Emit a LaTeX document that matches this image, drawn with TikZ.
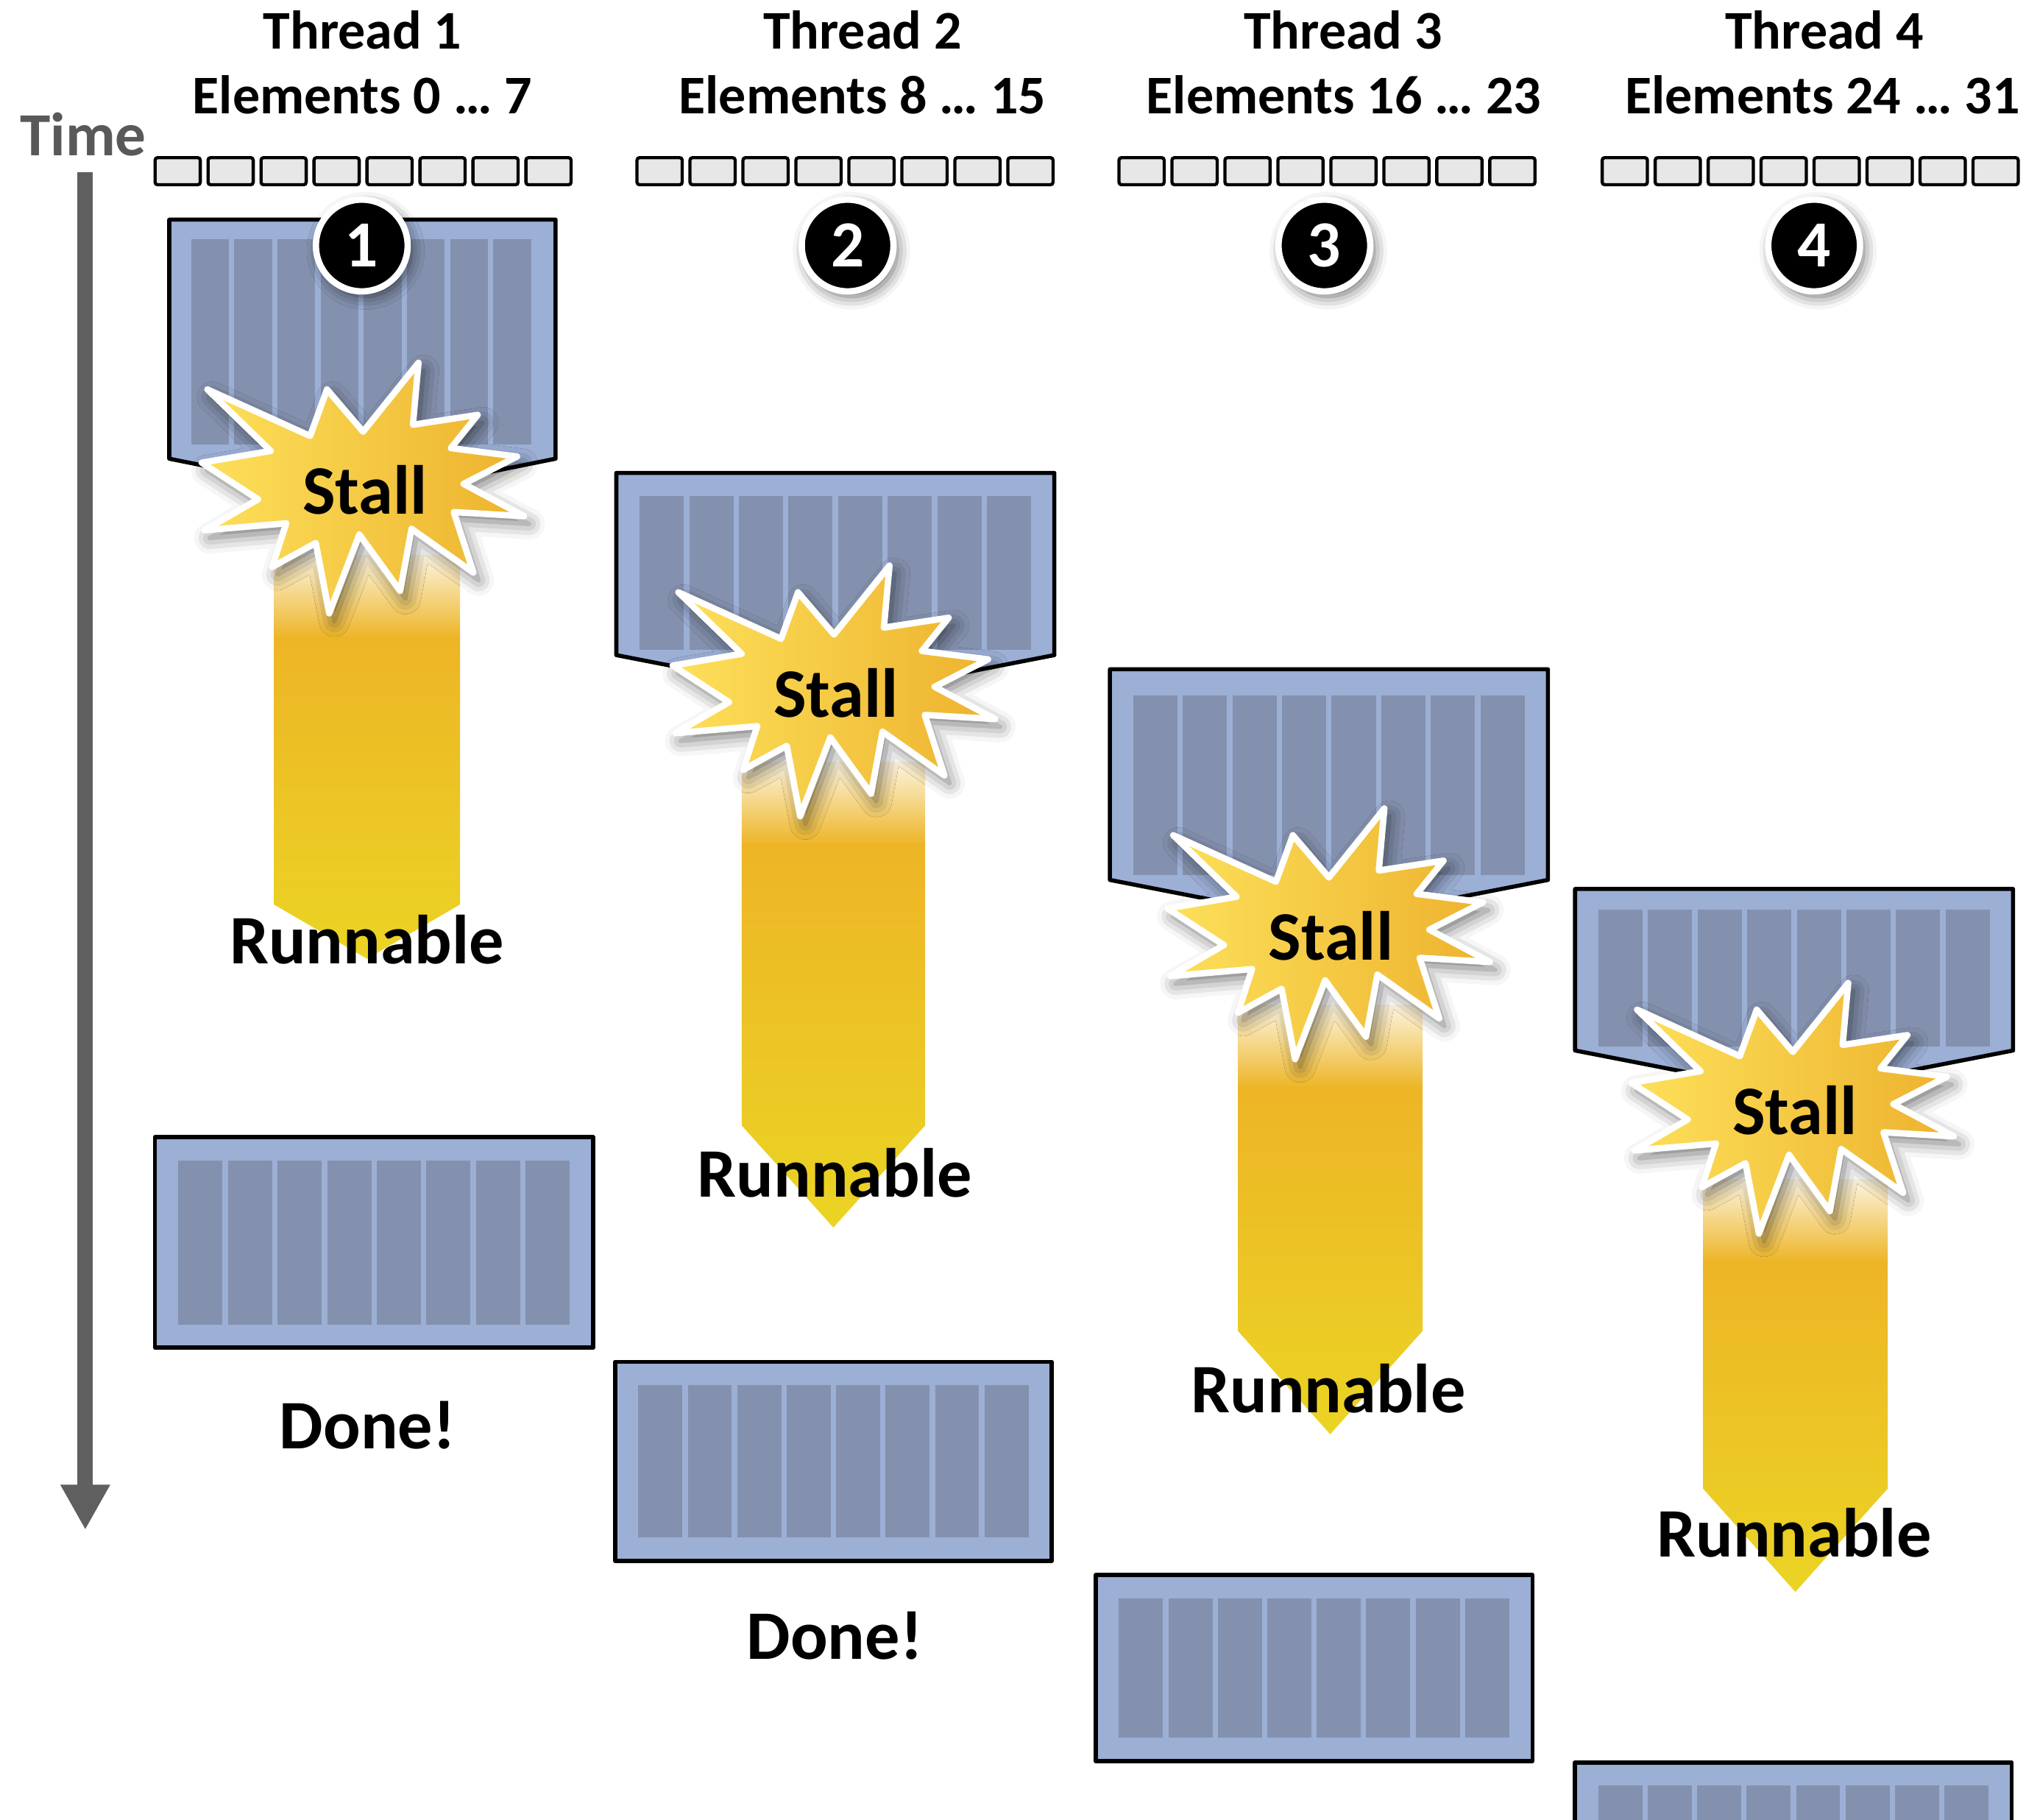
\documentclass[tikz,border=0pt]{standalone}
\usepackage{fontspec}
\setmainfont{Carlito}
\usetikzlibrary{arrows.meta,shadows.blur}

\definecolor{blockfill}{HTML}{9CAFD5}
\definecolor{lanefill}{HTML}{8491AE}
\definecolor{cellfill}{HTML}{E7E7E7}
\definecolor{timegray}{HTML}{5F5F5F}
\definecolor{timetext}{HTML}{595959}
\definecolor{burstleft}{HTML}{FDE05A}
\definecolor{burstright}{HTML}{EDB22E}
\definecolor{runtop}{HTML}{EDB526}
\definecolor{runbottom}{HTML}{EBD424}

\tikzset{
  cell/.style={draw=black, line width=0.7pt, fill=cellfill, rounded corners=0.2mm},
  warp/.style={draw=black, line width=0.9pt, fill=blockfill, line join=round},
  lane/.style={fill=lanefill},
  burst/.style={draw=white, line width=1.4pt, line join=round,
    left color=burstleft, right color=burstright,
    blur shadow={shadow xshift=0.4mm, shadow yshift=-0.6mm, shadow blur radius=1.2mm, shadow opacity=55}},
  badge/.style={circle, fill=black, draw=white, line width=1.4pt, minimum size=7.1mm, inner sep=0pt,
    text=white, font=\fontsize{14.5}{16}\selectfont\bfseries,
    blur shadow={shadow xshift=0.3mm, shadow yshift=-0.4mm, shadow blur radius=1mm, shadow opacity=60}},
  hdr/.style={font=\fontsize{12}{14}\selectfont\bfseries, anchor=base, inner sep=0pt},
  big/.style={font=\fontsize{15.3}{18}\selectfont\bfseries, anchor=base, inner sep=0pt},
  timeline/.style={draw=timegray, line width=1.2mm, -{Triangle[width=3.6mm,length=3.5mm]}},
}

\newcommand{\lanes}[4]{%
  \pgfmathsetmacro{\lanepitch}{(#3+4.2)/8}
  \foreach \i in {0,...,7}
    \fill[lane] ({#1+\i*\lanepitch},#2) rectangle ++({\lanepitch-4.2},#4);
}
\newcommand{\stallblock}[5]{%
  \path[warp] (#1,#2) -- ++(#3,0) -- ++(0,#4) -- ++({-#3/2},#5) -- ++({-#3/2},{-#5}) -- cycle;
}
\newcommand{\doneblock}[4]{%
  \path[warp] (#1,#2) rectangle ++(#3,#4);
  \lanes{#1+18}{#2+18}{#3-36}{#4-36}
}
\newcommand{\runarrow}[5]{%
  \shade[top color=runtop!15, bottom color=runtop] (#1,#3) rectangle (#2,#3+64);
  \shade[top color=runtop, bottom color=runbottom]
    (#1,#3+63) -- (#2,#3+63) -- (#2,#4) -- ({(#1+#2)/2},#5) -- (#1,#4) -- cycle;
}
\newcommand{\stallburst}[2]{%
  \path[burst, shift={(#1,#2)}]
    (-122,-79.6) -- (-42.5,-43.6) -- (-29.4,-79.6) -- (-1.5,-46.9) -- (41.4,-100.3)
    -- (37.1,-52.3) -- (87.2,-59.9) -- (66.5,-34.2) -- (117.7,-27.7) -- (76.3,-6.5)
    -- (123.1,18.5) -- (68.7,15.3) -- (83.9,62.1) -- (36,28.3) -- (27.2,76.3)
    -- (-4.4,32.7) -- (-27.7,93.7) -- (-38.1,39.2) -- (-71.9,57.8) -- (-61,24)
    -- (-124.2,29.4) -- (-82.8,5.4) -- (-126.4,-22.9) -- (-73,-32) -- cycle;
}

\begin{document}
\begin{tikzpicture}[x=0.1mm,y=-0.1mm]
\clip (0,0) rectangle (1568,1408);

\node[hdr] (thr1) at (280.5,38) {Thread 1};
\node[hdr] (elem1) at (280.5,88) {Elements 0 … 7};
\node[hdr] (thr2) at (667.5,38) {Thread 2};
\node[hdr] (elem2) at (667.5,88) {Elements 8 … 15};
\node[hdr] (thr3) at (1039.5,38) {Thread 3};
\node[hdr] (elem3) at (1040,88) {Elements 16 … 23};
\node[hdr] (thr4) at (1412,38) {Thread 4};
\node[hdr] (elem4) at (1410.5,88) {Elements 24 … 31};

\node[hdr, font=\fontsize{13.5}{15}\selectfont\bfseries, text=timetext] (time) at (64.5,120.6) {Time};
\coordinate (timetop) at (66,133);
\coordinate (timeend) at (66,1184);
\draw[timeline] (timetop) -- (timeend);

\foreach \x in {120,493,866,1240}
  \foreach \i in {0,...,7}
    \path[cell] ({\x+\i*41},122) rectangle ++(35,21);

\stallblock{131}{170}{299}{185}{30}
\lanes{148}{185}{263}{159}
\stallblock{477}{366}{339}{141}{33}
\lanes{495}{384}{303}{119}
\stallblock{859}{518}{339}{163}{33}
\lanes{877}{538}{303}{139}
\stallblock{1219}{688}{339}{125}{33}
\lanes{1237}{704}{303}{106}

\doneblock{120}{880}{339}{163}
\doneblock{476}{1054}{338}{154}
\doneblock{848}{1219}{338}{144}
\doneblock{1219}{1364}{338}{160}

\runarrow{212}{356}{430}{700}{742}
\runarrow{574}{716}{590}{871}{950}
\runarrow{958}{1101}{778}{1030}{1110}
\runarrow{1318}{1461}{913}{1152}{1232}

\stallburst{282.5}{381}
\stallburst{647}{538}
\stallburst{1030}{726}
\stallburst{1389}{861}

\node[big] (stall1) at (282.5,398) {Stall};
\node[big] (stall2) at (647,555) {Stall};
\node[big] (stall3) at (1030,743) {Stall};
\node[big] (stall4) at (1389,878) {Stall};

\node[big] (run1) at (284,746) {Runnable};
\node[big] (run2) at (646,926.5) {Runnable};
\node[big] (run3) at (1028,1093.5) {Runnable};
\node[big] (run4) at (1388.5,1205) {Runnable};

\node[big] (done1) at (284.5,1121) {Done!};
\node[big] (done2) at (646,1284) {Done!};

\node[badge] (num1) at (280,190) {1};
\node[badge] (num2) at (656,190) {2};
\node[badge] (num3) at (1025,190) {3};
\node[badge] (num4) at (1404,190) {4};
\end{tikzpicture}
\end{document}
